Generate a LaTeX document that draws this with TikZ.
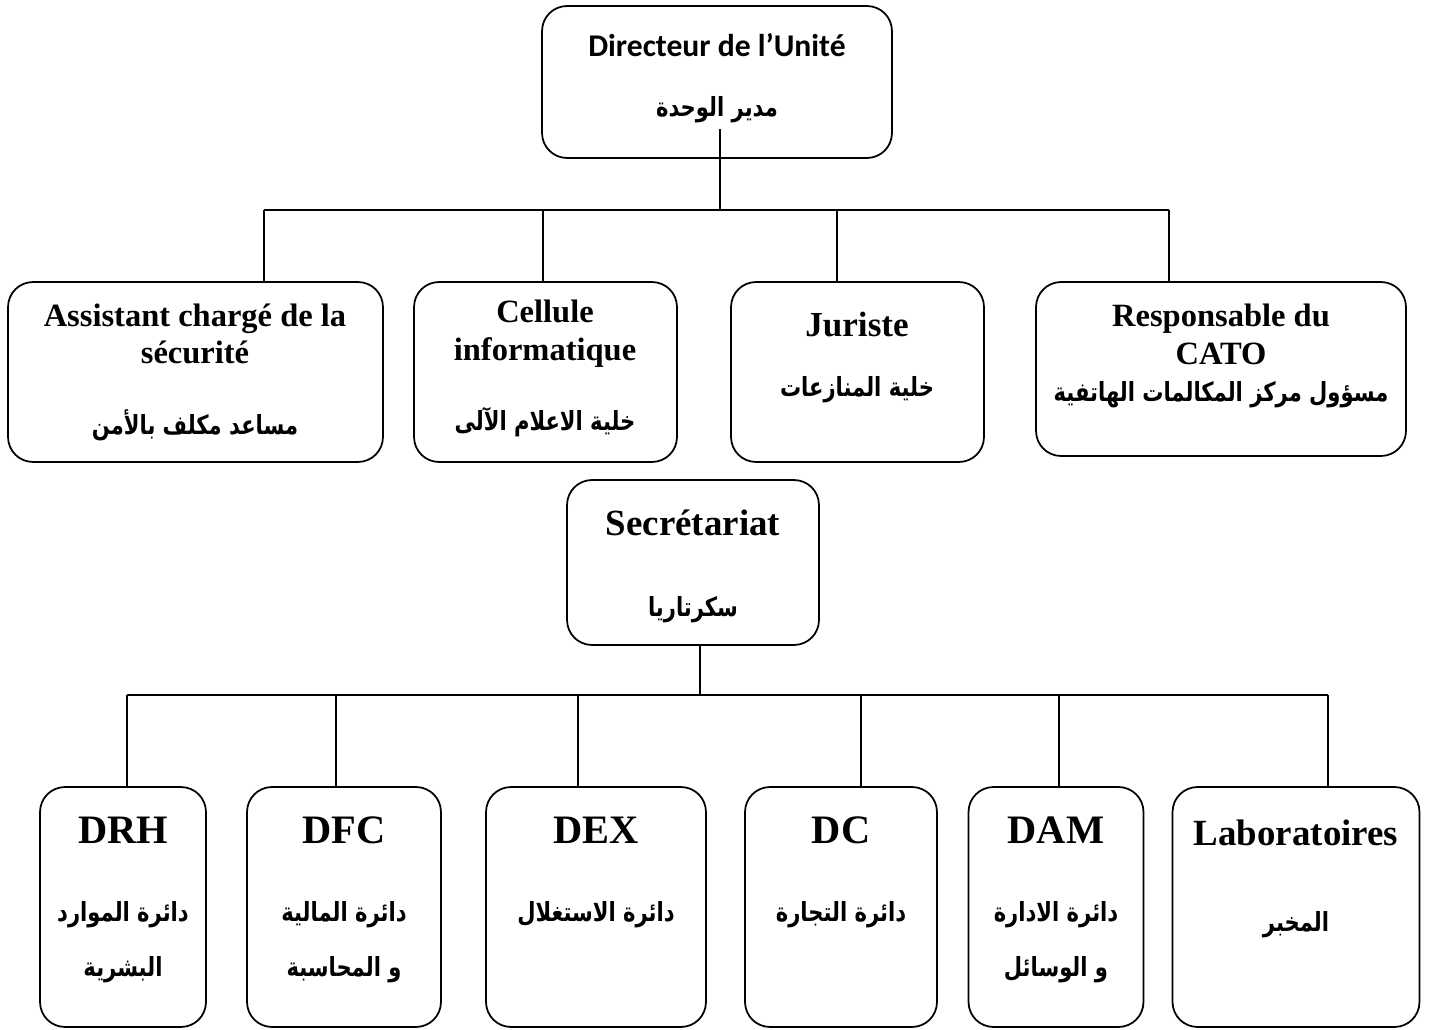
\documentclass[tikz,border=0pt]{standalone}
\usepackage{fontspec}
\setmainfont{Liberation Serif}
\newfontfamily\calfont{Carlito}
\newfontfamily\arabicfont[Script=Arabic, FakeStretch=0.8]{DejaVu Sans}
\TeXXeTstate=1
\newcommand{\ar}[1]{{\arabicfont\bfseries\beginR #1\endR}}

\begin{document}
\begin{tikzpicture}[x=0.02cm, y=-0.02cm,
    box/.style = {draw, rounded corners=0.5cm, line width=1pt, inner sep=0pt},
    lat/.style = {font=\bfseries\fontsize{18.5}{21.5}\selectfont, align=center, inner sep=0pt},
    big/.style = {font=\bfseries\fontsize{21}{24}\selectfont, inner sep=0pt},
    arb/.style = {font=\fontsize{15}{31}\selectfont, align=center, inner sep=0pt},
    bar/.style = {line width=1.3pt},
    drop/.style = {line width=0.8pt}]
  \useasboundingbox (0,0) rectangle (1430,1030);

  % director
  \node[box, minimum width=7cm, minimum height=3.04cm] (dir) at (717,82) {};
  \node[inner sep=0pt, font=\calfont\bfseries\fontsize{18}{22}\selectfont] (dirfr) at (717,45) {Directeur de l’Unité};
  \node[arb] (dirar) at (717,110) {\ar{مدير الوحدة}};

  % first row
  \node[box, minimum width=7.5cm, minimum height=3.6cm] (ass) at (195.5,372) {};
  \node[lat] (assfr) at (195,334) {Assistant chargé de la\\sécurité};
  \node[arb] (assar) at (195,425) {\ar{مساعد مكلف بالأمن}};

  \node[box, minimum width=5.26cm, minimum height=3.6cm] (cel) at (545.5,372) {};
  \node[lat] (celfr) at (545,334) {Cellule\\informatique};
  \node[arb] (celar) at (545,422) {\ar{خلية الاعلام الآلى}};

  \node[box, minimum width=5.06cm, minimum height=3.6cm] (jur) at (857.5,372) {};
  \node[big, font=\bfseries\fontsize{20}{24}\selectfont] (jurfr) at (857,325) {Juriste};
  \node[arb] (jurar) at (857,390) {\ar{خلية المنازعات}};

  \node[box, minimum width=7.4cm, minimum height=3.48cm] (res) at (1221,369) {};
  \node[lat] (resfr) at (1221,334) {Responsable du\\CATO};
  \node[arb] (resar) at (1221,395) {\ar{مسؤول مركز المكالمات الهاتفية}};

  % secretariat
  \node[box, minimum width=5.04cm, minimum height=3.3cm] (sec) at (693,562.5) {};
  \node[big] (secfr) at (693,523) {Secrétariat};
  \node[arb] (secar) at (693,610) {\ar{سكرتاريا}};

  % departments
  \node[box, minimum width=3.32cm, minimum height=4.8cm] (drh) at (123,907) {};
  \node[big, font=\bfseries\fontsize{23}{26}\selectfont] (drhfr) at (123,830) {DRH};
  \node[arb] (drhar) at (123,942) {\ar{دائرة الموارد}\\\ar{البشرية}};

  \node[box, minimum width=3.88cm, minimum height=4.8cm] (dfc) at (344,907) {};
  \node[big, font=\bfseries\fontsize{23}{26}\selectfont] (dfcfr) at (344,830) {DFC};
  \node[arb] (dfcar) at (344,942) {\ar{دائرة المالية}\\\ar{و المحاسبة}};

  \node[box, minimum width=4.4cm, minimum height=4.8cm] (dex) at (596,907) {};
  \node[big, font=\bfseries\fontsize{23}{26}\selectfont] (dexfr) at (596,830) {DEX};
  \node[arb] (dexar) at (596,915) {\ar{دائرة الاستغلال}};

  \node[box, minimum width=3.84cm, minimum height=4.8cm] (dc) at (841,907) {};
  \node[big, font=\bfseries\fontsize{23}{26}\selectfont] (dcfr) at (841,830) {DC};
  \node[arb] (dcar) at (841,915) {\ar{دائرة التجارة}};

  \node[box, minimum width=3.5cm, minimum height=4.8cm] (dam) at (1056,907) {};
  \node[big, font=\bfseries\fontsize{23}{26}\selectfont] (damfr) at (1056,830) {DAM};
  \node[arb] (damar) at (1056,942) {\ar{دائرة الادارة}\\\ar{و الوسائل}};

  \node[box, minimum width=4.94cm, minimum height=4.8cm] (lab) at (1296,907) {};
  \node[big] (labfr) at (1296,833) {Laboratoires};
  \node[arb] (labar) at (1296,925) {\ar{المخبر}};

  % links, top
  \coordinate (hub1) at (720,210);
  \coordinate (t1) at (264,210);
  \coordinate (t2) at (543,210);
  \coordinate (t3) at (837,210);
  \coordinate (t4) at (1169,210);
  \draw[drop] ([yshift=-3pt]dirar.south -| hub1) -- (hub1);
  \draw[bar] (t1) -- (t4);
  \draw[drop] (t1) -- (t1 |- ass.north);
  \draw[drop] (t2) -- (t2 |- cel.north);
  \draw[drop] (t3) -- (t3 |- jur.north);
  \draw[drop] (t4) -- (t4 |- res.north);

  % links, bottom
  \coordinate (hub2) at (700,695);
  \coordinate (b1) at (127,695);
  \coordinate (b2) at (336,695);
  \coordinate (b3) at (578,695);
  \coordinate (b4) at (861,695);
  \coordinate (b5) at (1059,695);
  \coordinate (b6) at (1328,695);
  \draw[drop] (sec.south -| hub2) -- (hub2);
  \draw[bar] (b1) -- (b6);
  \draw[drop] (b1) -- (b1 |- drh.north);
  \draw[drop] (b2) -- (b2 |- dfc.north);
  \draw[drop] (b3) -- (b3 |- dex.north);
  \draw[drop] (b4) -- (b4 |- dc.north);
  \draw[drop] (b5) -- (b5 |- dam.north);
  \draw[drop] (b6) -- (b6 |- lab.north);
\end{tikzpicture}
\end{document}
